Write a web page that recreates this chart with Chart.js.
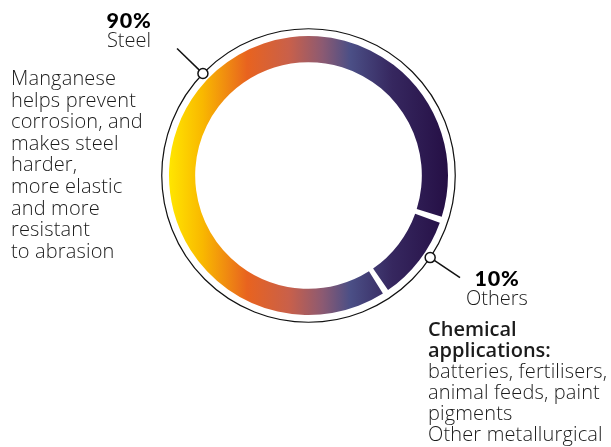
<!DOCTYPE html>
<html>
<head>
<meta charset="utf-8">
<title>Manganese uses</title>
<script src="https://cdn.jsdelivr.net/npm/chart.js@4.4.0/dist/chart.umd.min.js"></script>
<style>
  html, body { margin:0; padding:0; background:#fff; }
  #wrap { position:relative; width:611px; height:447px; overflow:hidden;
          font-family:'Open Sans', sans-serif; color:#1b1b1b; }
  #wrap canvas { position:absolute; left:0; top:0; }
  .txt  { position:absolute; white-space:nowrap; font-size:20px; font-weight:300; letter-spacing:0.15px; }
  .pct  { position:absolute; width:90px; text-align:center; }
  .pct b    { display:block; font-family:Lato, sans-serif; font-weight:900; font-size:21.5px; line-height:20px; color:#000; letter-spacing:0.8px; }
  .pct span { display:block; font-size:20px; font-weight:300; line-height:20px; }
  .head { font-weight:600; letter-spacing:0; }
</style>
</head>
<body>
<div id="wrap">
  <canvas id="donut" width="611" height="447"></canvas>
  <div class="pct" id="lbl0" style="left:84px;top:10px"></div>
  <div class="pct" id="lbl1" style="left:452px;top:268px"></div>
  <div class="txt" id="note0" style="left:11px;top:67px;line-height:21.6px"></div>
  <div class="txt" id="note1" style="left:428px;top:318px;line-height:21px"></div>
</div>
<script>
'use strict';
// ── data ────────────────────────────────────────────────
const categories = ['Steel', 'Others'];
const shares     = [90, 10];
const noteHeads  = ['', 'Chemical\napplications:'];
const notes      = [
  'Manganese\nhelps prevent\ncorrosion, and\nmakes steel\nharder,\nmore elastic\nand more\nresistant\nto abrasion',
  'batteries, fertilisers,\nanimal feeds, paint\npigments\nOther metallurgical'
];

// ── gradient across the ring, left → right ──────────────
const ringStops = [
  [0.00, '#ffe600'], [0.12, '#f9b800'], [0.28, '#e8631f'], [0.43, '#c9604a'],
  [0.55, '#8c5a72'], [0.65, '#4b4f86'], [0.80, '#36275f'], [1.00, '#250f45'],
];
let ringGrad = null;
function ringFill(ctx) {
  const area = ctx.chart.chartArea;
  if (!area) return '#36275f';
  if (!ringGrad) {
    ringGrad = ctx.chart.ctx.createLinearGradient(area.left, 0, area.right, 0);
    ringStops.forEach(([o, c]) => ringGrad.addColorStop(o, c));
  }
  return ringGrad;
}

// ── outer circle + leader markers ───────────────────────
const ringDecor = {
  id: 'ringDecor',
  afterDatasetsDraw(chart, args, opts) {
    const arcs = chart.getDatasetMeta(0).data;
    if (!arcs.length) return;
    const { x, y, outerRadius } = arcs[0].getProps(['x', 'y', 'outerRadius'], true);
    const R = outerRadius + opts.gap;
    const c = chart.ctx;
    c.save();
    c.strokeStyle = '#111';
    c.lineWidth = 1.2;
    c.beginPath();
    c.arc(x, y, R, 0, Math.PI * 2);
    c.stroke();
    opts.markerAngles.forEach(deg => {
      const a = (deg - 90) * Math.PI / 180;
      const mx = x + R * Math.cos(a), my = y + R * Math.sin(a);
      c.lineWidth = 1.5;
      c.beginPath();
      c.moveTo(x + (R + opts.dot) * Math.cos(a), y + (R + opts.dot) * Math.sin(a));
      c.lineTo(x + (R + opts.leader) * Math.cos(a), y + (R + opts.leader) * Math.sin(a));
      c.stroke();
      c.beginPath();
      c.arc(mx, my, opts.dot, 0, Math.PI * 2);
      c.fillStyle = '#fff';
      c.fill();
      c.stroke();
    });
    c.restore();
  }
};

new Chart(document.getElementById('donut'), {
  type: 'doughnut',
  data: {
    labels: categories,
    datasets: [{
      data: shares,
      backgroundColor: ringFill,
      borderWidth: 0, hoverBorderWidth: 0,
      hoverOffset: 0, spacing: 3.5,
    }],
  },
  options: {
    responsive: false,
    animation: false,
    rotation: 145.5,
    cutout: '81%',
    layout: { padding: { left: 169, right: 163, top: 36, bottom: 132 } },
    plugins: {
      legend: { display: false },
      tooltip: { enabled: false },
      ringDecor: { gap: 9, dot: 5, leader: 36, markerAngles: [314, 124] },
    },
    events: [],
  },
  plugins: [ringDecor],
});

// ── labels ──────────────────────────────────────────────
const total = shares.reduce((s, v) => s + v, 0);
categories.forEach((name, i) => {
  const pct = Math.round(shares[i] / total * 100);
  document.getElementById('lbl' + i).innerHTML = `<b>${pct}%</b><span>${name}</span>`;
  const head = noteHeads[i] ? `<span class="head">${noteHeads[i].replace(/\n/g, '<br>')}</span><br>` : '';
  document.getElementById('note' + i).innerHTML = head + notes[i].replace(/\n/g, '<br>');
});
</script>
</body>
</html>
